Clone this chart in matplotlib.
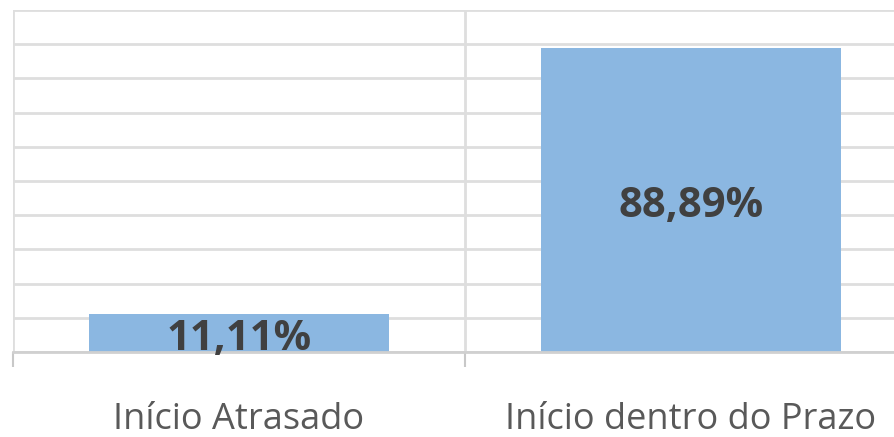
import matplotlib
matplotlib.use("Agg")
import matplotlib.pyplot as plt
import numpy as np

categorias = ['Início Atrasado', 'Início dentro do Prazo']
percentuais = [11.11, 88.89]
rotulos = ['11,11%', '88,89%']

W, H = 895, 437
fig = plt.figure(figsize=(W / 100, H / 100), dpi=100)
# the plot area runs off the right edge, like in the original
ax = fig.add_axes([13 / W, 85 / H, 904 / W, 342 / H])

x = np.arange(len(categorias))
ax.bar(x, percentuais, width=0.664, color='#8BB7E1', edgecolor='none', zorder=2)

for xi, v, r in zip(x, percentuais, rotulos):
    ax.text(xi, v / 2 - 2, r, ha='center', va='center', fontsize=30, fontweight='bold',
            color='#404040', family='Open Sans', zorder=3)

ax.set_xlim(-0.5, 1.5)
ax.set_ylim(0, 100)
ax.set_yticks(np.arange(0, 101, 10))
ax.yaxis.grid(True, color='#DEDEDE', linewidth=2)
ax.tick_params(axis='y', left=False, labelleft=False)

# category separators
for b in [-0.5, 0.5]:
    ax.axvline(b, color='#DEDEDE', linewidth=2, zorder=1)

ax.set_xticks(x)
ax.set_xticklabels(categorias, fontsize=26, color='#595959', family='Open Sans')
ax.tick_params(axis='x', length=0, pad=36)
ax.set_xticks([-0.5, 0.5, 1.5], minor=True)
ax.tick_params(axis='x', which='minor', length=10.5, width=1.5, color='#C8C8C8')

for s in ['top', 'right', 'left']:
    ax.spines[s].set_visible(False)
ax.spines['bottom'].set_color('#D0D0D0')
ax.spines['bottom'].set_linewidth(2)

fig.savefig('out.png', dpi=100)
